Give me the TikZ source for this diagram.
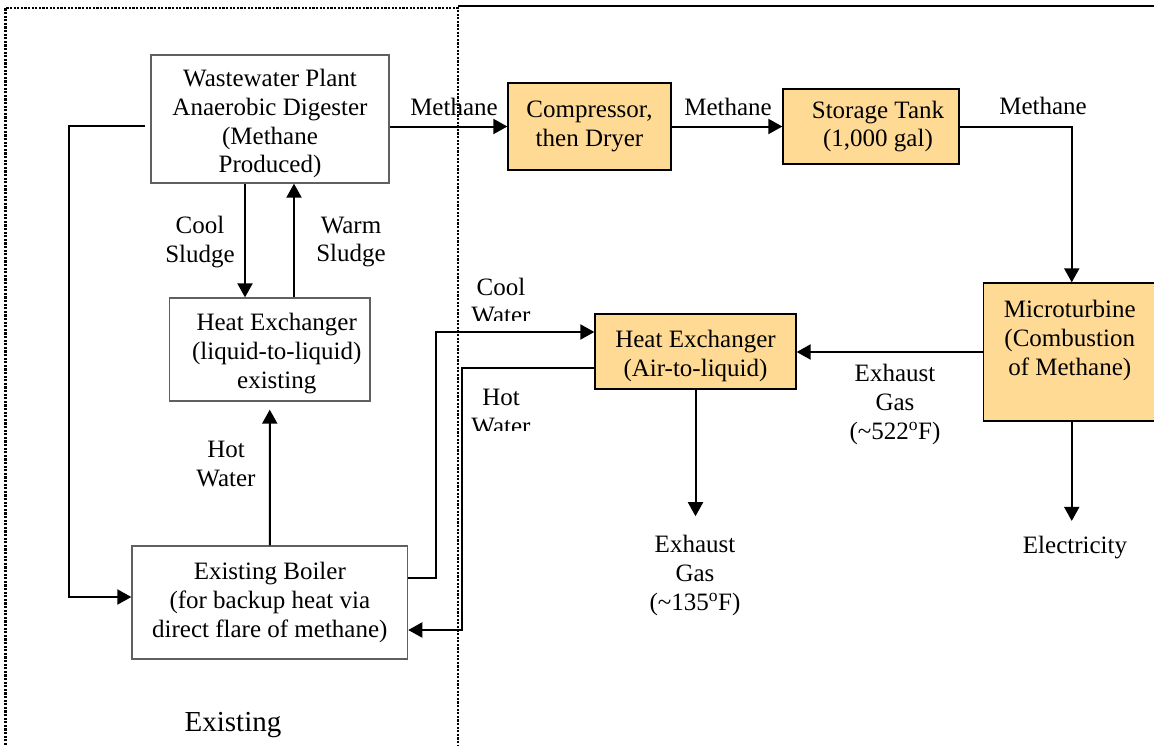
\documentclass[tikz,border=0pt]{standalone}
\usepackage{fontspec}
\setmainfont{Liberation Serif}
\usetikzlibrary{arrows.meta}
\definecolor{boxorange}{HTML}{FFDA95}
\definecolor{boxgray}{HTML}{606060}
\begin{document}
\begin{tikzpicture}[x=1pt,y=-1pt,
  txt/.style={font=\fontsize{25}{28.75}\selectfont, align=center, inner sep=0pt},
  wbox/.style={txt, draw=boxgray, line width=1.3pt, fill=white},
  obox/.style={txt, draw=black, line width=1.3pt, fill=boxorange},
  conn/.style={line width=2pt},
  arr/.style={conn, -{Triangle[length=14pt,width=15pt]}},
  border/.style={line width=2.4pt, dash pattern=on 2.2pt off 1.4pt}
]
\useasboundingbox (0,0) rectangle (1154,745);
% frame
\draw[border] (5.5,745) -- (5.5,8) -- (458,8) -- (458,745);
\draw[line width=1.5pt] (458,6) -- (1154,6);

% boxes
\node[wbox, minimum width=238pt, minimum height=128pt] (dig) at (270,119)
  {\mbox{}\\[-1.75pt]Wastewater Plant\\Anaerobic Digester\\(Methane\\Produced)};
\node[obox, minimum width=163pt, minimum height=87pt] (comp) at (589.5,126.5)
  {Compressor,\\then Dryer};
\node[obox, minimum width=176pt, minimum height=75pt] (stor) at (871,126.5)
  {\hspace*{14pt}Storage Tank\\\hspace*{14pt}(1,000 gal)};
\node[wbox, minimum width=200.5pt, minimum height=103pt] (hx1) at (269.75,349.5)
  {\mbox{}\\[-3.75pt]\hspace*{14pt}Heat Exchanger\\\hspace*{14pt}(liquid-to-liquid)\\\hspace*{14pt}existing};
\node[wbox, minimum width=275.6pt, minimum height=113pt] (boiler) at (269.8,602.5)
  {Existing Boiler\\(for backup heat via\\direct flare of methane)};
\node[obox, minimum width=201pt, minimum height=75pt] (hx2) at (695.5,351.5)
  {\mbox{}\\[-1.75pt]Heat Exchanger\\(Air-to-liquid)};
\node[obox, minimum width=172.5pt, minimum height=138pt] (micro) at (1069.75,352)
  {Microturbine\\(Combustion\\of Methane)\\\mbox{}};

% labels
\node[txt] (m1) at (454,107) {Methane};
\node[txt] (m2) at (728,107) {Methane};
\node[txt] (m3) at (1043,106) {Methane};
\node[txt] (cs) at (200,242) {Cool\\Sludge};
\node[txt] (ws) at (351,242) {Warm\\Sludge};
\node[txt] (hw1) at (226,464) {Hot\\Water};
\begin{scope}
  \clip (460,250) rectangle (560,320.5);
  \node[txt] (cw) at (501,301) {Cool\\Water};
\end{scope}
\begin{scope}
  \clip (460,370) rectangle (560,430.5);
  \node[txt] (hw2) at (501,412) {Hot\\Water};
\end{scope}
\node[txt] (ex1) at (895,404.5) {Exhaust\\Gas\\(\textasciitilde522\textsuperscript{o}F)};
\node[txt] (ex2) at (695,575.5) {Exhaust\\Gas\\(\textasciitilde135\textsuperscript{o}F)};
\node[txt] (elec) at (1075,547.5) {Electricity};
\node[txt, font=\fontsize{29}{33}\selectfont] (exist) at (233,725) {Existing};

% connectors
\draw[arr] (dig.east |- comp.west) -- (comp.west);
\draw[arr] (comp.east) -- (stor.west);
\coordinate (mtop) at ([xshift=2pt]micro.north);
\draw[arr] (stor.east) -| (mtop);
\coordinate (csx) at (245,0);
\coordinate (wsx) at (294,0);
\draw[arr] (dig.south -| csx) -- (hx1.north -| csx);
\draw[arr] (hx1.north -| wsx) -- (dig.south -| wsx);
\draw[arr, shorten >=8pt] (boiler.north) -- (hx1.south);
\coordinate (fbc) at (69,597);
\draw[arr] ([xshift=-5pt,yshift=-7pt]dig.west) -| (fbc) -- (boiler.west |- fbc);
\draw[arr] ([yshift=24.5pt]boiler.east) -- ++(28,0) |- ([yshift=19.5pt]hx2.west);
\draw[arr] ([yshift=-16.5pt]hx2.west) -- ++(-132,0) |- ([yshift=-27.5pt]boiler.east);
\draw[arr] (micro.west) -- (hx2.east |- micro.west);
\draw[arr, shorten >=19pt] (hx2.south) -- (hx2.south |- ex2.north);
\coordinate (mbot) at ([xshift=2pt]micro.south);
\draw[arr, shorten >=15pt] (mbot) -- (mbot |- elec.north);
\end{tikzpicture}
\end{document}
